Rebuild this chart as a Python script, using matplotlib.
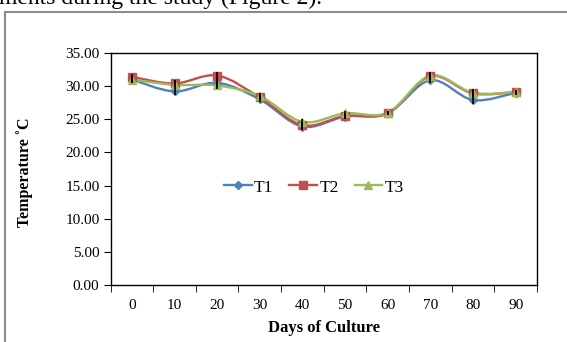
import numpy as np
import matplotlib.pyplot as plt
from matplotlib.path import Path
import matplotlib.patches as patches

plt.rcParams['font.family'] = ['Liberation Serif', 'DejaVu Serif']

# data
days = ['0', '10', '20', '30', '40', '50', '60', '70', '80', '90']
t1 = [31.0, 29.2, 30.5, 28.0, 23.9, 25.4, 25.9, 30.9, 27.9, 29.0]
t2 = [31.4, 30.4, 31.6, 28.3, 24.1, 25.5, 25.9, 31.5, 28.9, 29.1]
t3 = [31.0, 30.2, 30.1, 28.5, 24.6, 25.9, 26.0, 31.6, 29.0, 29.1]
err = [0.5, 0.5, 0.6, 0.4, 0.5, 0.4, 0.3, 0.5, 0.6, 0.3]


def smooth_path(x, y, k=1 / 6):
    # bezier control points like Excel's "smoothed line"
    x = np.asarray(x, float)
    y = np.asarray(y, float)
    n = len(x)
    verts = [(x[0], y[0])]
    codes = [Path.MOVETO]
    for i in range(n - 1):
        p0 = i - 1 if i > 0 else i
        p3 = i + 2 if i + 2 < n else i + 1
        c1 = (x[i] + (x[i + 1] - x[p0]) * k, y[i] + (y[i + 1] - y[p0]) * k)
        c2 = (x[i + 1] - (x[p3] - x[i]) * k, y[i + 1] - (y[p3] - y[i]) * k)
        verts += [c1, c2, (x[i + 1], y[i + 1])]
        codes += [Path.CURVE4] * 3
    return Path(verts, codes)


fig = plt.figure(figsize=(5.67, 3.42), dpi=100)
ax = fig.add_axes([0.195, 0.167, 0.752, 0.678])

# grey frame of the embedded chart
frame = patches.Rectangle((5 / 567, -0.1), 1.2, 1 - 12 / 342 + 0.1, transform=fig.transFigure,
                          fill=False, edgecolor='#8c8c8c', linewidth=1.5, figure=fig)
fig.patches.append(frame)
fig.text(-0.002, 1 - 4 / 342, 'ments during the study (Figure 2).', fontsize=17, va='baseline', ha='left')

x = np.arange(len(days))
series = [('T1', t1, '#4F81BD', 'D', 4), ('T2', t2, '#C0504D', 's', 6), ('T3', t3, '#9BBB59', '^', 6)]
for name, vals, col, mk, ms in series:
    ax.add_patch(patches.PathPatch(smooth_path(x, vals), facecolor='none', edgecolor=col, lw=1.7, zorder=3))
    ax.plot(x, vals, linestyle='none', marker=mk, markersize=ms, color=col, zorder=4)
    ax.errorbar(x, vals, yerr=err, fmt='none', ecolor='black', elinewidth=1.2, capsize=0, zorder=5)

handles = [plt.Line2D([], [], color=c, lw=1.7, marker=m, markersize=s) for _, _, c, m, s in series]
ax.legend(handles, [s[0] for s in series], loc='center', bbox_to_anchor=(0.477, 0.42), ncol=3,
          frameon=False, fontsize=12.5, handlelength=1.6, columnspacing=0.9, handletextpad=0.15)

ax.set_xlim(-0.5, len(days) - 0.5)
ax.set_ylim(0, 35)
ax.set_yticks(np.arange(0, 35.1, 5))
ax.set_yticklabels([f'{v:.2f}' for v in np.arange(0, 35.1, 5)])
ax.set_xticks(x)
ax.set_xticklabels(days)
ax.set_xticks(np.arange(-0.5, len(days), 1), minor=True)
ax.tick_params(axis='x', which='major', length=0, pad=10, labelsize=11)
ax.tick_params(axis='x', which='minor', length=5, direction='out')
ax.tick_params(axis='y', length=5, direction='out', labelsize=11, pad=3)
for sp in ax.spines.values():
    sp.set_linewidth(1.0)

ax.set_xlabel('Days of Culture', fontsize=12, fontweight='bold', labelpad=6)
fig.text(25 / 567, 1 - 172 / 342, 'Temperature ˚C', fontsize=11.5, fontweight='bold',
         rotation=90, ha='center', va='center')

fig.savefig('out.png', dpi=100)
